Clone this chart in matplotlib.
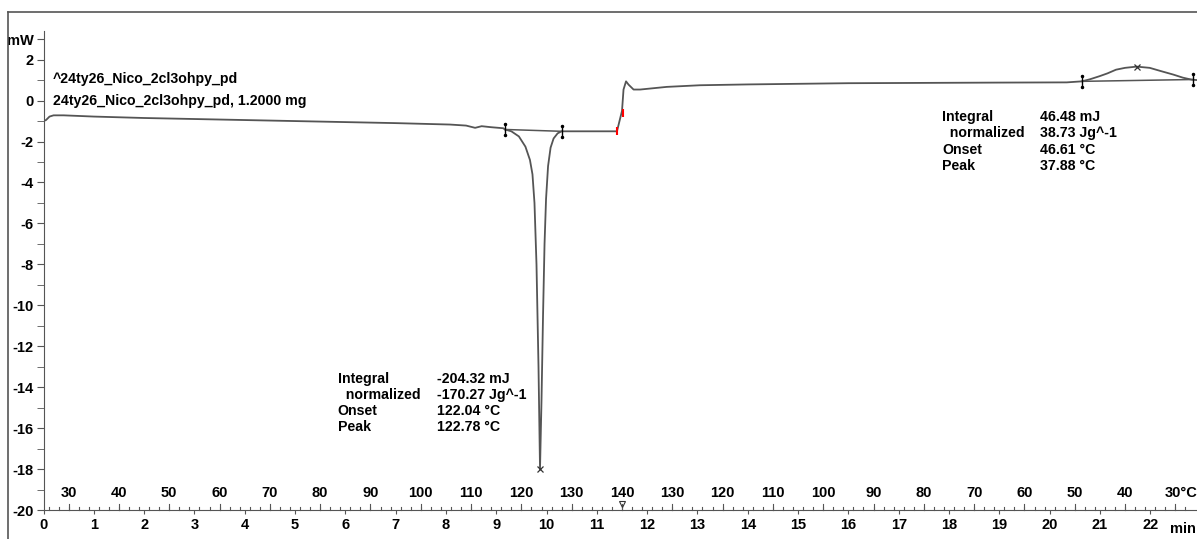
import matplotlib.pyplot as plt
from matplotlib.lines import Line2D
import matplotlib.transforms as mtransforms

plt.rcParams['font.family'] = ['Liberation Sans', 'DejaVu Sans']
plt.rcParams['font.weight'] = 'bold'

# DSC curve, time in min, heat flow in mW
time_min = [0.00, 0.05, 0.12, 0.20, 0.40, 1.0, 2.0, 3.0, 4.0, 5.0, 6.0, 7.0,
            8.08, 8.40, 8.58, 8.71, 8.90, 9.14, 9.17, 9.30, 9.45, 9.58, 9.67,
            9.72, 9.76, 9.80, 9.84, 9.87, 9.90, 9.93, 9.96, 9.99, 10.03, 10.08,
            10.14, 10.22, 10.30, 10.60, 11.00, 11.40, 11.45, 11.50, 11.53,
            11.58, 11.63, 11.73, 11.86, 12.39, 13.05, 14.0, 15.0, 16.0, 17.03,
            18.0, 19.0, 20.34, 20.64, 20.80, 20.99, 21.15, 21.32, 21.50, 21.73,
            21.99, 22.20, 22.46, 22.65, 22.83, 22.95]
heat_flow = [-1.00, -0.95, -0.78, -0.72, -0.72, -0.78, -0.85, -0.90, -0.95, -1.00,
             -1.05, -1.10, -1.17, -1.22, -1.33, -1.25, -1.30, -1.35, -1.41, -1.50,
             -1.75, -2.25, -2.90, -3.60, -5.00, -8.00, -13.00, -18.00, -14.60,
             -10.50, -7.00, -4.80, -3.20, -2.30, -1.85, -1.60, -1.50, -1.50, -1.50,
             -1.50, -1.00, -0.50, 0.54, 0.94, 0.78, 0.54, 0.54, 0.67, 0.75, 0.79,
             0.82, 0.85, 0.86, 0.87, 0.88, 0.89, 0.94, 1.04, 1.19, 1.33, 1.51,
             1.60, 1.66, 1.60, 1.45, 1.27, 1.12, 1.02, 1.00]

# integration limits (time, mW) and peaks
endo_limits = [(9.17, -1.41), (10.30, -1.50)]
exo_limits = [(20.64, 0.94), (22.85, 1.03)]
peaks = [(9.87, -18.0), (21.73, 1.65)]
step_marks = [(11.40, -1.50), (11.52, -0.60)]

endo_labels = ['Integral', '  normalized', 'Onset', 'Peak']
endo_values = ['-204.32 mJ', '-170.27 Jg^-1', '122.04 °C', '122.78 °C']
exo_values = ['46.48 mJ', '38.73 Jg^-1', '46.61 °C', '37.88 °C']

# temperature programme: 25 °C, 10 K/min up to 140 °C, then back down
heat_temps = [30, 40, 50, 60, 70, 80, 90, 100, 110, 120, 130, 140]
cool_temps = [130, 120, 110, 100, 90, 80, 70, 60, 50, 40]
t_start, rate, t_turn, t_max = 25, 10.0, 11.5, 140


def heat_time(T):
    return (T - t_start) / rate


def cool_time(T):
    return t_turn + (t_max - T) / rate


W, H = 1197, 539
fs = 10.2
fig = plt.figure(figsize=(W / 100, H / 100), dpi=100)
ax = fig.add_axes([43.5 / W, (H - 510) / H, 1 - 43.5 / W, (510 - 31) / H])
ax.set_xlim(0, 22.93)
ax.set_ylim(-20, 3.4)

# outer frame
fig.add_artist(Line2D([8 / W, 8 / W], [0, (H - 12) / H], color='#555555', lw=1.2))
fig.add_artist(Line2D([8 / W, 1], [(H - 12) / H, (H - 12) / H], color='#555555', lw=1.2))

line_col = '#555555'
ax.plot(time_min, heat_flow, color=line_col, lw=1.3)

# baselines and brackets
for lims in (endo_limits, exo_limits):
    xs = [p[0] for p in lims]
    ys = [p[1] for p in lims]
    ax.plot(xs, ys, color=line_col, lw=1.1)
    for x, y in lims:
        ax.plot([x, x], [y - 0.25, y + 0.25], color='black', lw=1.0)
        ax.plot([x, x], [y - 0.28, y + 0.28], ls='none', marker='.', ms=3, color='black')

for x, y in peaks:
    ax.plot(x, y, marker='x', color='#333333', ms=5, mew=0.9)

for x, y in step_marks:
    ax.plot(x, y, marker='|', color='red', ms=6, mew=1.5)

# axes styling
for side in ('top', 'right'):
    ax.spines[side].set_visible(False)
ax.spines['left'].set_color('#555555')
ax.spines['bottom'].set_color('#555555')

ax.set_yticks(list(range(-20, 3, 2)) + [3])
ax.set_yticklabels([str(v) for v in range(-20, 3, 2)] + ['mW'])
ax.set_yticks(range(-19, 3, 2), minor=True)
ax.tick_params(axis='y', which='major', length=5, labelsize=fs + 0.3, color='#555555', pad=2)
ax.tick_params(axis='y', which='minor', length=5, color='#555555')

ax.set_xticks(range(0, 23))
ax.set_xticklabels([str(v) for v in range(0, 23)])
ax.tick_params(axis='x', which='major', length=3, labelsize=fs + 0.3, color='#555555', pad=3)
ax.text(22.4, -20.6, 'min', fontsize=fs + 0.3, ha='left', va='top', clip_on=False)

# temperature scale drawn on top of the time axis
trans = mtransforms.blended_transform_factory(ax.transData, ax.transAxes)
minor_pos = [heat_time(T) for T in range(26, 141, 2)] + [cool_time(T) for T in range(138, 27, -2)]
for x in minor_pos:
    ax.plot([x, x], [0, 0.007], transform=trans, color='#555555', lw=0.8, clip_on=False)
major_pos = [heat_time(T) for T in heat_temps] + [cool_time(T) for T in cool_temps] + [cool_time(30)]
for x in major_pos:
    ax.plot([x, x], [0, 0.013], transform=trans, color='#555555', lw=0.8, clip_on=False)
for T in heat_temps:
    ax.text(heat_time(T), 0.02, str(T), transform=trans, ha='center', va='bottom', fontsize=fs + 0.3)
for T in cool_temps:
    ax.text(cool_time(T), 0.02, str(T), transform=trans, ha='center', va='bottom', fontsize=fs + 0.3)
ax.text(cool_time(30) - 0.22, 0.02, '30°C', transform=trans, ha='left', va='bottom', fontsize=fs + 0.3)
ax.plot(t_turn, 0.012, transform=trans, marker='v', ms=5, mfc='none', mec='#333333',
        mew=0.8, clip_on=False)

# sample names
ax.text(0.19, 1.05, '^24ty26_Nico_2cl3ohpy_pd', fontsize=fs, va='center', ha='left')
ax.text(0.19, 0.0, '24ty26_Nico_2cl3ohpy_pd, 1.2000 mg', fontsize=fs, va='center', ha='left')

# result tables
endo_x_lab, endo_x_val = 5.85, 7.82
endo_y = [-13.6, -14.4, -15.15, -15.95]
for lab, val, y in zip(endo_labels, endo_values, endo_y):
    ax.text(endo_x_lab, y, lab, fontsize=fs, va='center', ha='left')
    ax.text(endo_x_val, y, val, fontsize=fs, va='center', ha='left')

exo_x_lab, exo_x_val = 17.86, 19.8
exo_y = [-0.78, -1.6, -2.4, -3.2]
for lab, val, y in zip(endo_labels, exo_values, exo_y):
    ax.text(exo_x_lab, y, lab, fontsize=fs, va='center', ha='left')
    ax.text(exo_x_val, y, val, fontsize=fs, va='center', ha='left')

fig.savefig('out.png', dpi=100)
